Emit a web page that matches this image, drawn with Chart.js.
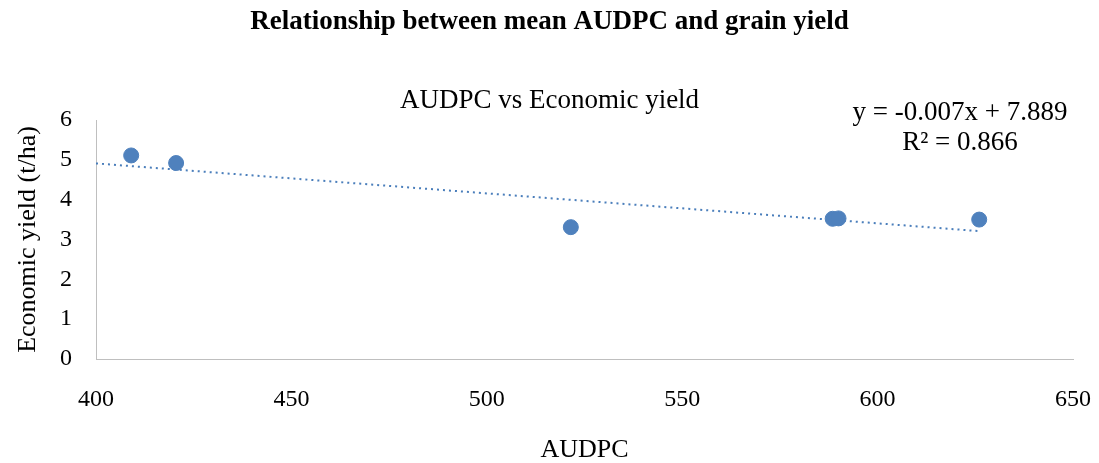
<!DOCTYPE html>
<html>
<head>
<meta charset="utf-8">
<script src="https://cdn.jsdelivr.net/npm/chart.js@4.4.1/dist/chart.umd.min.js"></script>
<style>
  html, body { margin: 0; padding: 0; background: #fff; }
  #wrap { width: 1099px; height: 463px; position: relative; }
</style>
</head>
<body>
<div id="wrap"><canvas id="chart" width="1099" height="463"></canvas></div>
<script>
// data
const audpc = [409, 420.5, 521.5, 588.5, 590, 626];
const yieldValues = [5.11, 4.92, 3.31, 3.52, 3.53, 3.5];
const trendX = [400, 626];
const trendY = [4.91, 3.21];
const xTicks = [400, 450, 500, 550, 600, 650];
const yTicks = [0, 1, 2, 3, 4, 5, 6];
const equationLines = ['y = -0.007x + 7.889', 'R² = 0.866'];

const serif = "'Liberation Serif', 'DejaVu Serif', serif";
const blue = '#4F81BD';

const points = audpc.map((x, i) => ({ x: x, y: yieldValues[i] }));
const trend = trendX.map((x, i) => ({ x: x, y: trendY[i] }));

// equation text in the top right corner of the plot
const equationPlugin = {
  id: 'equation',
  afterDraw(chart) {
    const ctx = chart.ctx;
    ctx.save();
    ctx.font = '27px ' + serif;
    ctx.fillStyle = '#000';
    ctx.textAlign = 'center';
    ctx.textBaseline = 'middle';
    ctx.fillText(equationLines[0], 960, 113);
    ctx.fillText(equationLines[1], 960, 143);
    ctx.restore();
  }
};

const ctx = document.getElementById('chart').getContext('2d');
new Chart(ctx, {
  type: 'scatter',
  data: {
    datasets: [
      {
        label: 'Economic yield',
        data: points,
        backgroundColor: blue,
        borderColor: blue,
        pointRadius: 7.5,
        pointHoverRadius: 7.5
      },
      {
        type: 'line',
        label: 'Trend',
        data: trend,
        showLine: true,
        borderColor: '#4A7EBB',
        borderWidth: 2,
        borderDash: [2, 4],
        pointRadius: 0,
        fill: false
      }
    ]
  },
  options: {
    responsive: false,
    animation: false,
    layout: { padding: 0 },
    plugins: {
      legend: { display: false },
      tooltip: { enabled: false },
      title: {
        display: true,
        text: 'Relationship between mean AUDPC and grain yield',
        color: '#000',
        font: { family: serif, size: 27, weight: 'bold' },
        padding: { top: 6, bottom: 46.4 }
      },
      subtitle: {
        display: true,
        text: 'AUDPC vs Economic yield',
        color: '#000',
        font: { family: serif, size: 27 },
        padding: { top: 0, bottom: 2.8 }
      }
    },
    scales: {
      x: {
        type: 'linear',
        min: 400,
        max: 650,
        afterBuildTicks: (axis) => { axis.ticks = xTicks.map(v => ({ value: v })); },
        afterFit: (axis) => {
          axis.height = 104;
          axis.paddingLeft = 0;
          axis.paddingRight = 26;
        },
        grid: { display: false, drawTicks: false },
        border: { display: true, color: '#BFBFBF', width: 1 },
        ticks: { color: '#000', font: { family: serif, size: 24 }, padding: 26 },
        title: {
          display: true,
          text: 'AUDPC',
          color: '#000',
          font: { family: serif, size: 26, lineHeight: 1 },
          padding: { top: 0, bottom: 0 }
        }
      },
      y: {
        type: 'linear',
        min: 0,
        max: 6,
        afterBuildTicks: (axis) => { axis.ticks = yTicks.map(v => ({ value: v })); },
        afterFit: (axis) => { axis.width = 96; },
        grid: { display: false, drawTicks: false },
        border: { display: true, color: '#BFBFBF', width: 1 },
        ticks: { color: '#000', font: { family: serif, size: 24 }, padding: 24 },
        title: {
          display: true,
          text: 'Economic yield (t/ha)',
          color: '#000',
          font: { family: serif, size: 26 },
          padding: { top: 12.4, bottom: 0 }
        }
      }
    }
  },
  plugins: [equationPlugin]
});
</script>
</body>
</html>
